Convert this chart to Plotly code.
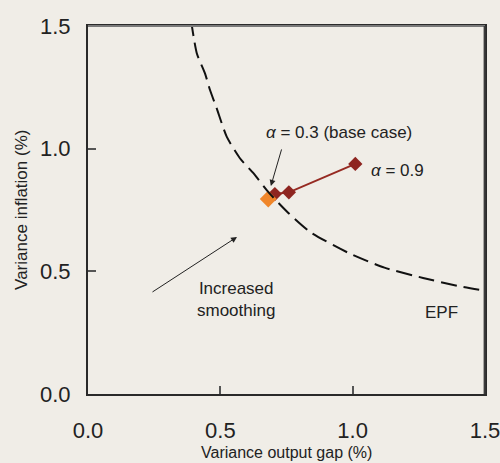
import plotly.graph_objects as go

# EPF frontier
epf_x = [0.389, 0.411, 0.442, 0.461, 0.486, 0.524, 0.574, 0.625, 0.68, 0.757, 0.84, 0.99, 1.12, 1.266, 1.40, 1.53]
epf_y = [1.525, 1.389, 1.307, 1.239, 1.165, 1.049, 0.961, 0.90, 0.825, 0.738, 0.66, 0.572, 0.515, 0.473, 0.44, 0.416]

# Policy points (alpha from 0.3 to 0.9)
pol_x = [0.681, 0.706, 0.759, 1.01]
pol_y = [0.795, 0.815, 0.822, 0.938]

base_x = [0.681]
base_y = [0.795]

tick_vals = [0.0, 0.5, 1.0, 1.5]
tick_text = ["0.0", "0.5", "1.0", "1.5"]

FONT = "Liberation Sans, Arial, sans-serif"
BG = "#F0EDE7"
TXT = "#222222"

fig = go.Figure()

fig.add_trace(go.Scatter(
    x=pol_x, y=pol_y, mode="lines+markers",
    line=dict(color="#962A22", width=2),
    marker=dict(symbol="diamond", size=11, color="#8E2520"),
    showlegend=False, hoverinfo="skip"))

fig.add_trace(go.Scatter(
    x=base_x, y=base_y, mode="markers",
    marker=dict(symbol="diamond", size=13, color="#F0862A"),
    showlegend=False, hoverinfo="skip"))

fig.add_trace(go.Scatter(
    x=epf_x, y=epf_y, mode="lines",
    line=dict(color="#111111", width=2, dash="16px,7px", shape="spline", smoothing=0.6),
    showlegend=False, hoverinfo="skip"))

axis_common = dict(
    range=[0, 1.5], tickvals=tick_vals, ticktext=tick_text,
    showgrid=False, zeroline=False, automargin=False,
    showline=True, linecolor="#2a2a2a", linewidth=2, mirror=True,
    ticks="inside", ticklen=8, tickcolor="#555555", tickwidth=1.5,
    tickfont=dict(size=22, family=FONT, color=TXT),
    ticklabeloverflow="allow",
)

fig.update_layout(
    width=500, height=463,
    paper_bgcolor=BG, plot_bgcolor=BG,
    margin=dict(l=88, r=15, t=26, b=69),
    font=dict(family=FONT, color=TXT),
    xaxis=dict(**axis_common, ticklabelstandoff=16),
    yaxis=dict(**axis_common, ticklabelstandoff=11),
    shapes=[
        dict(type="line", xref="paper", yref="paper", x0=0, x1=1, y0=1, y1=1,
             line=dict(color="#7a7a7a", width=2), layer="above"),
        dict(type="line", xref="paper", yref="paper", x0=0.999, x1=0.999, y0=0, y1=1,
             line=dict(color="#3c3c3c", width=2), layer="above"),
    ],
    annotations=[
        dict(x=0.5, y=-0.160, xref="paper", yref="paper", text="Variance output gap (%)",
             xanchor="center", yanchor="middle",
             showarrow=False, font=dict(size=16, family=FONT, color=TXT)),
        dict(x=-0.169, y=0.5, xref="paper", yref="paper", text="Variance inflation (%)",
             xanchor="center", yanchor="middle",
             textangle=-90, showarrow=False, font=dict(size=17, family=FONT, color=TXT)),
        dict(x=0.948, y=1.064, xref="x", yref="y", text="<i>α</i> = 0.3 (base case)",
             showarrow=False, font=dict(size=17, family=FONT, color=TXT)),
        dict(x=0.691, y=0.848, ax=0.733, ay=1.003, xref="x", yref="y", axref="x", ayref="y",
             text="", showarrow=True, arrowhead=2, arrowsize=1.2, arrowwidth=1, arrowcolor=TXT),
        dict(x=1.062, y=0.913, xref="x", yref="y", text="<i>α</i> = 0.9", xanchor="left",
             showarrow=False, font=dict(size=17, family=FONT, color=TXT)),
        dict(x=0.563, y=0.640, ax=0.238, ay=0.412, xref="x", yref="y", axref="x", ayref="y",
             text="", showarrow=True, arrowhead=2, arrowsize=1.2, arrowwidth=1, arrowcolor=TXT),
        dict(x=0.559, y=0.385, xref="x", yref="y", text="Increased<br>smoothing",
             showarrow=False, font=dict(size=17, family=FONT, color=TXT)),
        dict(x=1.334, y=0.334, xref="x", yref="y", text="EPF",
             showarrow=False, font=dict(size=17, family=FONT, color=TXT)),
    ],
)

fig.write_html("out.html", config={"displayModeBar": False},
               post_script="document.body.style.margin='0';")
